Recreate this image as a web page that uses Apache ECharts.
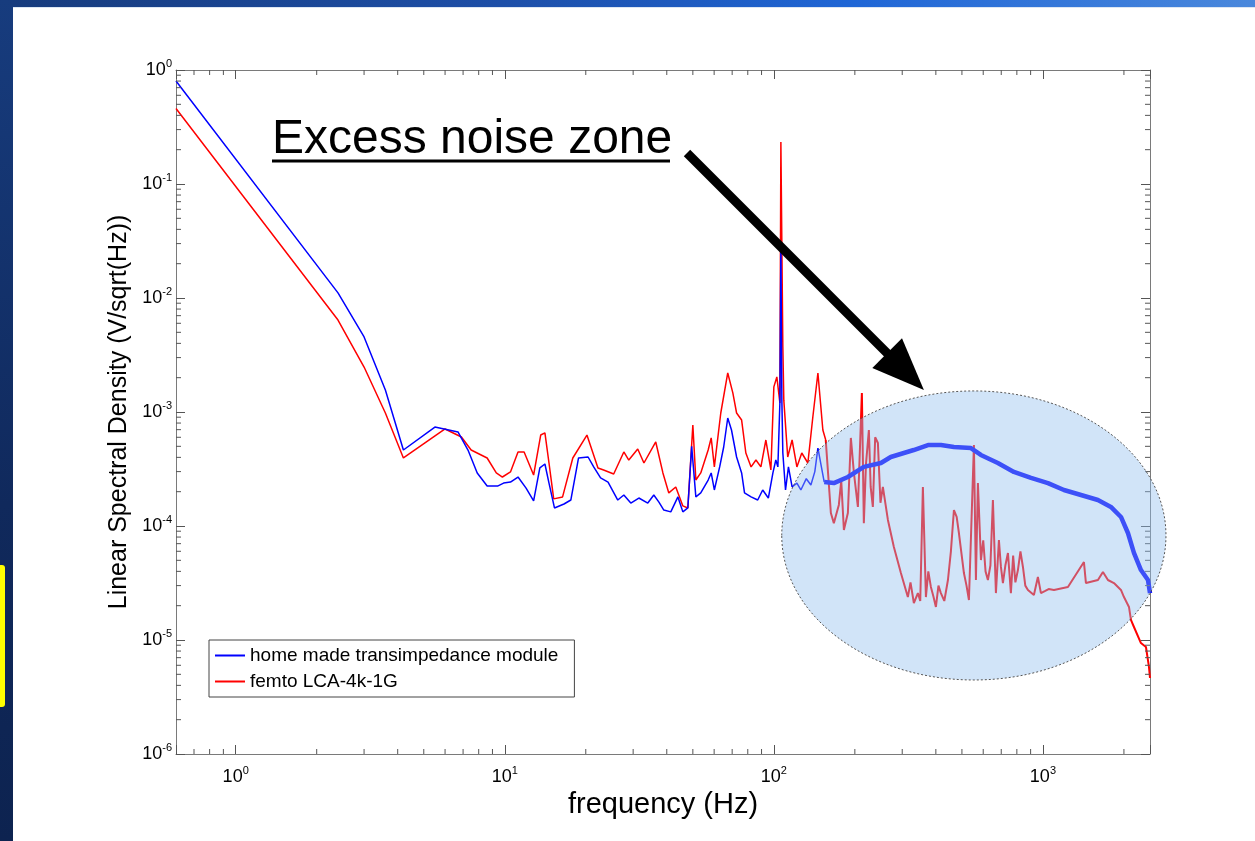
<!DOCTYPE html>
<html><head><meta charset="utf-8">
<script src="https://cdn.jsdelivr.net/npm/echarts@6/dist/echarts.min.js"></script>
<style>
html,body{margin:0;padding:0;background:#fff;width:1255px;height:841px;overflow:hidden;}
#chart{position:absolute;left:0;top:0;width:1255px;height:841px;}
.topband{position:absolute;left:0;top:0;width:1255px;height:7px;background:linear-gradient(90deg,#173b7c 0%,#1d4fa8 40%,#1f66d6 68%,#4a88dc 100%);z-index:5}
.topline{position:absolute;left:13px;top:7px;width:1242px;height:1px;background:#dce6f3;z-index:5}
.leftband{position:absolute;left:0;top:0;width:13px;height:841px;background:linear-gradient(180deg,#173c7e 0%,#10295c 60%,#0d2350 100%);z-index:5}
.yellow{position:absolute;left:0;top:565px;width:5px;height:142px;background:#ffff00;border-radius:0 3px 3px 0;z-index:6}
</style></head>
<body>
<div id="chart"></div>
<div class="topband"></div><div class="topline"></div><div class="leftband"></div><div class="yellow"></div>
<script>
// ---- data: [frequency (Hz), linear spectral density (V/sqrt(Hz))] ----
const blueLow = [[0.6,0.80],[2.4,0.0111],[3.0,4.55e-3],[3.6,1.56e-3],[4.2,4.64e-4],[5.5,7.38e-4],[6.7,6.68e-4],[7.3,4.64e-4],[7.9,2.92e-4],[8.6,2.24e-4],[9.4,2.24e-4],[9.9,2.38e-4],[10.5,2.43e-4],[11.2,2.69e-4],[12.0,2.15e-4],[12.8,1.66e-4],[13.5,3.23e-4],[14.1,3.50e-4],[14.6,2.38e-4],[15.3,1.44e-4],[16.6,1.56e-4],[17.6,1.69e-4],[18.8,3.95e-4],[20.4,4.03e-4],[21.4,3.30e-4],[22.7,2.64e-4],[24.2,2.43e-4],[26.3,1.69e-4],[27.7,1.87e-4],[29.4,1.59e-4],[31.5,1.76e-4],[34.0,1.59e-4],[35.8,1.87e-4],[37.4,1.62e-4],[39.0,1.38e-4],[41.4,1.33e-4],[44.0,1.80e-4],[45.9,1.33e-4],[47.9,1.44e-4],[49.5,5.0e-4],[51.3,1.80e-4],[53.5,1.95e-4],[57.0,2.53e-4],[58.5,2.92e-4],[60.1,2.07e-4],[62.9,3.30e-4],[65.1,4.93e-4],[67.4,8.86e-4],[69.6,6.95e-4],[72.7,4.03e-4],[75.9,2.92e-4],[77.8,1.95e-4],[82.3,1.80e-4],[87.1,1.69e-4],[90.9,2.07e-4],[95.4,1.76e-4],[99.2,2.92e-4],[101.7,3.79e-4],[103.5,3.30e-4],[105.3,1.2e-3],[106.2,2.92e-2],[107.1,1.27e-3],[108.0,4.37e-4],[110.5,2.07e-4],[113.3,3.30e-4],[116.9,2.20e-4],[121.8,2.38e-4],[126,2.07e-4],[132,2.6e-4],[137.3,2.29e-4],[142,3.0e-4],[145.8,4.83e-4],[153.9,2.43e-4]];
const blueBand = [[153.9,2.43e-4],[167.1,2.38e-4],[188.4,2.69e-4],[216,3.30e-4],[250,3.57e-4],[272,4.03e-4],[331,4.64e-4],[374,5.13e-4],[418,5.13e-4],[467,4.93e-4],[540,4.83e-4],[588,4.20e-4],[680,3.57e-4],[780,2.98e-4],[903,2.64e-4],[1044,2.38e-4],[1197,2.07e-4],[1385,1.87e-4],[1601,1.69e-4],[1789,1.47e-4],[1950,1.20e-4],[2070,8.68e-5],[2179,5.80e-5],[2314,4.11e-5],[2457,3.36e-5],[2500,2.58e-5]];
const redLow = [[0.6,0.46],[2.4,6.41e-3],[3.0,2.48e-3],[3.6,9.8e-4],[4.2,3.95e-4],[6.0,7.10e-4],[6.9,6.04e-4],[7.5,4.64e-4],[8.6,3.95e-4],[9.3,2.92e-4],[9.8,2.69e-4],[10.5,2.98e-4],[11.2,4.46e-4],[11.8,4.46e-4],[12.8,2.80e-4],[13.6,6.28e-4],[14.1,6.55e-4],[14.6,3.57e-4],[15.2,1.73e-4],[16.4,1.80e-4],[17.9,3.95e-4],[20.2,6.28e-4],[22.2,3.23e-4],[23.3,3.10e-4],[25.4,2.86e-4],[27.7,4.46e-4],[28.9,3.79e-4],[31.2,4.73e-4],[32.9,3.57e-4],[36.4,5.46e-4],[38.7,2.92e-4],[40.7,1.95e-4],[43.2,2.20e-4],[45.9,1.50e-4],[47.9,1.44e-4],
[50.0,7.69e-4],[51.3,2.53e-4],[53.5,2.92e-4],[57.0,4.64e-4],[58.5,5.92e-4],[60.1,3.30e-4],[63.5,9.8e-4],[67.4,2.20e-3],[70.4,1.47e-3],[72.7,9.8e-4],[75.9,8.5e-4],[78.7,4.37e-4],[82.3,3.30e-4],[85.8,3.79e-4],[89.5,3.30e-4],[93.4,5.68e-4],[97.5,3.10e-4],[100,1.66e-3],[102.6,2.03e-3],[105.3,1.2e-3],[106.2,0.233],[108.0,3.72e-3],[108.9,1.27e-3],[112.6,4.03e-4],[116.9,5.68e-4],[121.8,3.30e-4],[127.0,4.37e-4],[133.8,3.57e-4],[139.6,9.04e-4],[145.8,2.20e-3],[152.1,6.95e-4],[155.9,5.68e-4]];
const redBand = [[155.9,5.68e-4],[162.9,1.30e-4],[167.1,1.06e-4],[174.4,1.53e-4],[178,2.5e-4],[182.1,9.23e-5],[188.4,1.30e-4],[193.3,5.92e-4],[198.4,2.92e-4],[205.3,1.47e-4],[212.4,1.47e-3],[216.0,1.06e-4],[220,3.5e-4],[225.5,6.95e-4],[229,2.2e-4],[233.3,1.47e-4],[238,6.0e-4],[243.6,5.35e-4],[249,1.6e-4],[254.2,2.20e-4],[265.4,1.13e-4],[279.3,6.54e-5],[288,5.0e-5],[296.6,3.87e-5],[314.8,2.38e-5],[322,3.2e-5],[331.4,2.11e-5],[343.0,2.58e-5],[350,2.2e-5],[358.0,2.20e-4],[367.4,2.38e-5],[375,4.0e-5],[383.4,2.92e-5],[392,2.4e-5],[400.2,1.95e-5],[409,3.0e-5],[417.6,2.58e-5],[430,2.2e-5],[443.6,3.36e-5],[455,6.0e-5],[466.9,1.38e-4],[478,1.2e-4],[487.3,8.68e-5],[508.6,3.87e-5],[520,3.0e-5],[530.9,2.24e-5],[554.1,5.13e-4],[563.6,3.36e-5],[573.3,2.38e-4],[588.3,5.03e-5],[600,7.5e-5],[612,4.0e-5],[624.4,3.36e-5],[638,4.5e-5],[651.8,1.69e-4],[668.8,2.58e-5],[686.2,7.54e-5],[698,4.4e-5],[710.2,3.16e-5],[725,4.5e-5],[741.3,5.80e-5],[760.3,2.58e-5],[775,5.5e-5],[790,3.2e-5],[807.4,4.11e-5],[825,6.0e-5],[842.8,4.37e-5],[860,3.0e-5],[879.6,2.75e-5],[925.7,2.48e-5],[957.9,3.57e-5],[983.1,2.58e-5],[1020,2.7e-5],[1050,2.8e-5],[1098.9,2.75e-5],[1238.6,2.92e-5],[1420.3,4.83e-5],[1445.0,3.16e-5],[1601.4,3.36e-5],[1671.2,3.95e-5],[1744.3,3.36e-5],[1836.0,3.16e-5],[1949.8,2.75e-5],[2000.8,2.38e-5],[2088.3,1.95e-5],[2124.0,1.50e-5],[2179.4,1.30e-5],[2313.6,9.4e-6],[2414.9,8.68e-6],[2478,5.8e-6],[2500,4.64e-6]];

const seriesNames = ['home made transimpedance module', 'femto LCA-4k-1G'];
const xRange = [0.6, 2500];
const yRange = [1e-6, 1];
const xMinorTicks = [0.7,0.8,0.9,2,3,4,5,6,7,8,9,20,30,40,50,60,70,80,90,200,300,400,500,600,700,800,900,2000];
const yMinorTicks = [];
[1e-6,1e-5,1e-4,1e-3,1e-2,1e-1].forEach(d => { for (let k = 2; k <= 9; k++) yMinorTicks.push(+(k*d).toPrecision(2)); });
// annotation zone (data coordinates of ellipse bounding box)
const zoneFreq = [107, 2866];
const zoneVal = [1.53e-3, 4.46e-6];
const zoneLabel = 'Excess noise zone';

const FONT = '"Liberation Sans", Arial, Helvetica, sans-serif';
function powLabel(v) {
  const l = Math.log10(v), e = Math.round(l);
  if (Math.abs(l - e) > 1e-6) return '';
  return '{b|10}{s|' + e + '}';
}
const rich = {
  b: {fontSize: 18, lineHeight: 24, fontFamily: FONT, color: '#000'},
  s: {fontSize: 11, lineHeight: 11, verticalAlign: 'top', fontFamily: FONT, color: '#000'}
};
const axisCommon = {
  type: 'log', logBase: 10,
  axisLine: {show: true, lineStyle: {color: '#7a7a7a', width: 1}},
  axisTick: {show: true, inside: true, length: 9, lineStyle: {color: '#555', width: 1}},
  splitLine: {show: false}, minorTick: {show: false}
};
const tickStyle = {stroke: '#555', lineWidth: 1};

const chart = echarts.init(document.getElementById('chart'), null, {renderer: 'canvas'});
const option = {
  animation: false,
  backgroundColor: 'transparent',
  grid: {left: 176, right: 105, top: 70, bottom: 87},
  legend: {
    data: seriesNames.map(n => ({name: n, icon: 'rect'})), orient: 'vertical', left: 209, top: 640,
    backgroundColor: '#fff', borderColor: '#444', borderWidth: 1, borderRadius: 0,
    padding: [6, 16, 6, 6], itemGap: 7, itemWidth: 30, itemHeight: 2,
    textStyle: {fontSize: 19, color: '#000', fontFamily: FONT}
  },
  xAxis: [
    Object.assign({}, axisCommon, {min: xRange[0], max: xRange[1], position: 'bottom',
      axisLabel: {formatter: powLabel, rich: rich, margin: 11},
      name: 'frequency (Hz)', nameLocation: 'middle', nameGap: 35,
      nameTextStyle: {fontSize: 29, color: '#000', fontFamily: FONT}}),
    Object.assign({}, axisCommon, {min: xRange[0], max: xRange[1], position: 'top', axisLabel: {show: false}})
  ],
  yAxis: [
    Object.assign({}, axisCommon, {min: yRange[0], max: yRange[1], position: 'left',
      axisLabel: {formatter: powLabel, rich: rich, margin: 4},
      name: 'Linear Spectral Density (V/sqrt(Hz))', nameLocation: 'middle', nameGap: 44,
      nameTextStyle: {fontSize: 25, color: '#000', fontFamily: FONT}}),
    Object.assign({}, axisCommon, {min: yRange[0], max: yRange[1], position: 'right', axisLabel: {show: false}})
  ],
  series: [
    {name: seriesNames[1], type: 'line', data: redLow, symbol: 'none', z: 2,
     lineStyle: {color: '#ff0000', width: 1.5}, itemStyle: {color: '#ff0000'}},
    {name: seriesNames[1], type: 'line', data: redBand, symbol: 'none', z: 2,
     lineStyle: {color: '#ff0000', width: 2}, itemStyle: {color: '#ff0000'}},
    {name: seriesNames[0], type: 'line', data: blueLow, symbol: 'none', z: 3,
     lineStyle: {color: '#0000ff', width: 1.5}, itemStyle: {color: '#0000ff'}},
    {name: seriesNames[0], type: 'line', data: blueBand, symbol: 'none', z: 3,
     lineStyle: {color: '#0000ff', width: 4.5}, itemStyle: {color: '#0000ff'}},
    {name: 'xminor', type: 'custom', silent: true, clip: false, z: 4,
     data: xMinorTicks.map(f => [f, yRange[0]]),
     renderItem: function (params, api) {
       const f = api.value(0);
       const b = api.coord([f, yRange[0]]), t = api.coord([f, yRange[1]]);
       return {type: 'group', children: [
         {type: 'line', shape: {x1: b[0], y1: b[1], x2: b[0], y2: b[1] - 5}, style: tickStyle},
         {type: 'line', shape: {x1: t[0], y1: t[1], x2: t[0], y2: t[1] + 5}, style: tickStyle}]};
     }},
    {name: 'yminor', type: 'custom', silent: true, clip: false, z: 4,
     data: yMinorTicks.map(v => [xRange[0], v]),
     renderItem: function (params, api) {
       const v = api.value(1);
       const l = api.coord([xRange[0], v]), r = api.coord([xRange[1], v]);
       return {type: 'group', children: [
         {type: 'line', shape: {x1: l[0], y1: l[1], x2: l[0] + 5, y2: l[1]}, style: tickStyle},
         {type: 'line', shape: {x1: r[0], y1: r[1], x2: r[0] - 5, y2: r[1]}, style: tickStyle}]};
     }}
  ]
};
chart.setOption(option);

// annotations anchored to data coordinates
const p1 = chart.convertToPixel({gridIndex: 0}, [zoneFreq[0], zoneVal[0]]);
const p2 = chart.convertToPixel({gridIndex: 0}, [zoneFreq[1], zoneVal[1]]);
const cx = (p1[0] + p2[0]) / 2, cy = (p1[1] + p2[1]) / 2;
const rx = Math.abs(p2[0] - p1[0]) / 2, ry = Math.abs(p2[1] - p1[1]) / 2;
const tip = [cx - 0.26 * rx, p1[1] - 1];
const tail = [687, 153];
const dx = tip[0] - tail[0], dy = tip[1] - tail[1], len = Math.hypot(dx, dy);
const ux = dx / len, uy = dy / len;
const headLen = 52, headHalf = 21;
const base = [tip[0] - ux * headLen, tip[1] - uy * headLen];
chart.setOption({
  graphic: [
    {type: 'ellipse', z: 100, silent: true,
     shape: {cx: cx, cy: cy, rx: rx, ry: ry},
     style: {fill: 'rgba(145,190,238,0.42)', stroke: '#555', lineWidth: 1, lineDash: [2, 2]}},
    {type: 'line', z: 101, silent: true,
     shape: {x1: tail[0], y1: tail[1], x2: base[0] + ux * 4, y2: base[1] + uy * 4},
     style: {stroke: '#000', lineWidth: 9}},
    {type: 'polygon', z: 101, silent: true,
     shape: {points: [tip, [base[0] - uy * headHalf, base[1] + ux * headHalf], [base[0] + uy * headHalf, base[1] - ux * headHalf]]},
     style: {fill: '#000'}},
    {type: 'text', z: 101, silent: true, x: 272, y: 140,
     style: {text: zoneLabel, font: '48px ' + FONT, fill: '#000', align: 'left', verticalAlign: 'middle'}},
    {type: 'line', z: 101, silent: true,
     shape: {x1: 272, y1: 161, x2: 670, y2: 161}, style: {stroke: '#000', lineWidth: 3}}
  ]
});
</script>
</body></html>
